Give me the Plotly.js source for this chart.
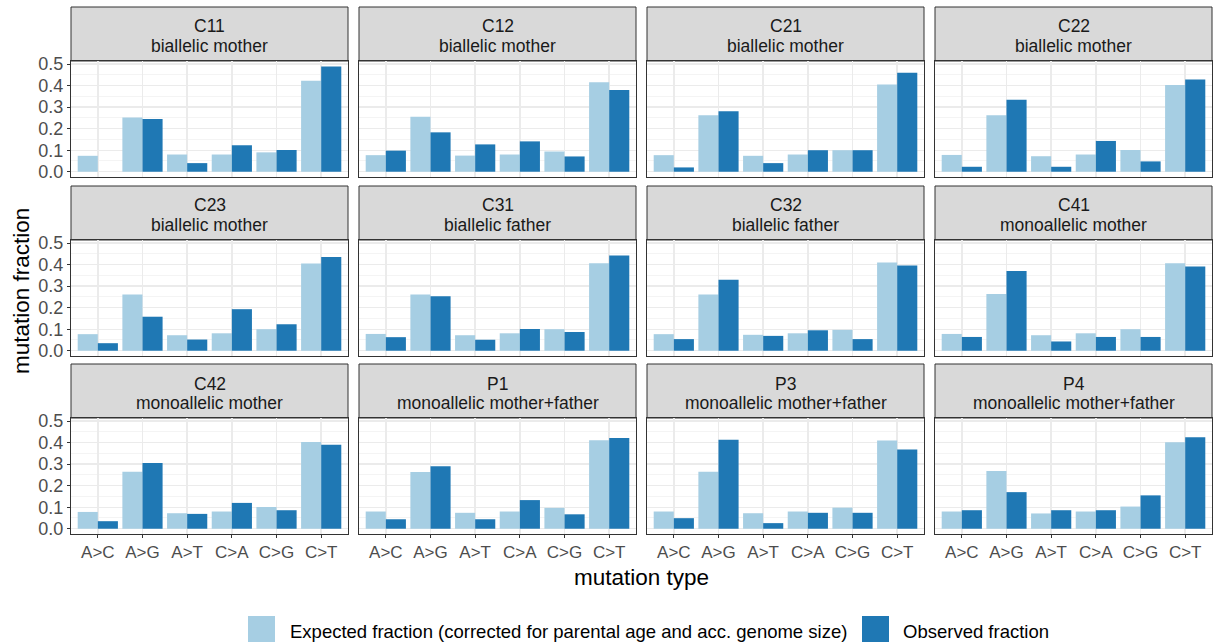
<!DOCTYPE html>
<html>
<head>
<meta charset="utf-8">
<script src="https://cdn.plot.ly/plotly-3.0.1.min.js"></script>
<style>
  html, body { margin: 0; padding: 0; background: #ffffff; }
  #chart { width: 1219px; height: 642px; }
</style>
</head>
<body>
<div id="chart"></div>
<script>
// Mutation spectrum per sample: expected vs observed fraction of each base substitution
const mutationTypes = ['A>C', 'A>G', 'A>T', 'C>A', 'C>G', 'C>T'];
const sampleIds = ['C11', 'C12', 'C21', 'C22', 'C23', 'C31', 'C32', 'C41', 'C42', 'P1', 'P3', 'P4'];
const inheritance = [
  'biallelic mother', 'biallelic mother', 'biallelic mother', 'biallelic mother',
  'biallelic mother', 'biallelic father', 'biallelic father', 'monoallelic mother',
  'monoallelic mother', 'monoallelic mother+father', 'monoallelic mother+father', 'monoallelic mother+father'
];
const seriesNames = ['Expected fraction (corrected for parental age and acc. genome size)', 'Observed fraction'];

// Expected fractions, one array per sample (order of mutationTypes)
const expC11 = [0.074, 0.252, 0.080, 0.080, 0.090, 0.423];
const expC12 = [0.077, 0.256, 0.075, 0.080, 0.094, 0.416];
const expC21 = [0.077, 0.262, 0.074, 0.080, 0.100, 0.405];
const expC22 = [0.078, 0.262, 0.072, 0.080, 0.101, 0.403];
const expC23 = [0.077, 0.261, 0.072, 0.081, 0.100, 0.405];
const expC31 = [0.078, 0.261, 0.072, 0.081, 0.100, 0.406];
const expC32 = [0.077, 0.261, 0.074, 0.081, 0.097, 0.410];
const expC41 = [0.078, 0.264, 0.072, 0.081, 0.100, 0.406];
const expC42 = [0.078, 0.265, 0.072, 0.080, 0.101, 0.403];
const expP1  = [0.080, 0.264, 0.074, 0.080, 0.097, 0.411];
const expP3  = [0.080, 0.265, 0.072, 0.080, 0.098, 0.410];
const expP4  = [0.080, 0.268, 0.071, 0.080, 0.103, 0.402];

// Observed fractions, one array per sample
const obsC11 = [0.000, 0.245, 0.040, 0.123, 0.101, 0.489];
const obsC12 = [0.098, 0.183, 0.127, 0.141, 0.071, 0.380];
const obsC21 = [0.020, 0.281, 0.040, 0.100, 0.100, 0.460];
const obsC22 = [0.023, 0.334, 0.023, 0.143, 0.048, 0.428];
const obsC23 = [0.035, 0.158, 0.052, 0.193, 0.123, 0.436];
const obsC31 = [0.063, 0.253, 0.051, 0.101, 0.087, 0.442];
const obsC32 = [0.054, 0.330, 0.069, 0.095, 0.054, 0.396];
const obsC41 = [0.064, 0.370, 0.043, 0.064, 0.064, 0.391];
const obsC42 = [0.035, 0.305, 0.069, 0.120, 0.086, 0.390];
const obsP1  = [0.044, 0.290, 0.044, 0.133, 0.067, 0.422];
const obsP3  = [0.049, 0.414, 0.026, 0.074, 0.074, 0.368];
const obsP4  = [0.086, 0.170, 0.086, 0.086, 0.155, 0.425];

const expectedBySample = [expC11, expC12, expC21, expC22, expC23, expC31, expC32, expC41, expC42, expP1, expP3, expP4];
const observedBySample = [obsC11, obsC12, obsC21, obsC22, obsC23, obsC31, obsC32, obsC41, obsC42, obsP1, obsP3, obsP4];

const colExpected = '#a6cee3';
const colObserved = '#1f78b4';

// Facet geometry in pixels
const W = 1219, H = 642;
const colLeft = [71, 359, 647, 935];
const panelW = 277;
const rowTop = [61, 240, 418];
const panelH = 116;
const stripH = 54;
const FONT = 'Liberation Sans, Arial, Helvetica, sans-serif';

const px = v => v / W;
const py = v => 1 - v / H;

const traces = [];
const layout = {
  width: W, height: H,
  margin: { l: 0, r: 0, t: 0, b: 0 },
  paper_bgcolor: '#ffffff',
  plot_bgcolor: '#ffffff',
  barmode: 'group',
  bargap: 0.1,
  bargroupgap: 0,
  showlegend: false,
  font: { family: FONT, color: '#4d4d4d' },
  shapes: [],
  annotations: []
};

sampleIds.forEach((id, i) => {
  const r = Math.floor(i / 4), c = i % 4;
  const n = i + 1;
  const xa = 'x' + (n === 1 ? '' : n), ya = 'y' + (n === 1 ? '' : n);
  const xKey = 'xaxis' + (n === 1 ? '' : n), yKey = 'yaxis' + (n === 1 ? '' : n);

  traces.push({
    type: 'bar', x: mutationTypes, y: expectedBySample[i], name: seriesNames[0],
    marker: { color: colExpected, line: { width: 0 } }, xaxis: xa, yaxis: ya, hoverinfo: 'x+y'
  });
  traces.push({
    type: 'bar', x: mutationTypes, y: observedBySample[i], name: seriesNames[1],
    marker: { color: colObserved, line: { width: 0 } }, xaxis: xa, yaxis: ya, hoverinfo: 'x+y'
  });

  const left = colLeft[c], top = rowTop[r];
  const bottomRow = r === 2, leftCol = c === 0;

  layout[xKey] = {
    domain: [px(left), px(left + panelW)],
    anchor: ya,
    type: 'category',
    categoryorder: 'array', categoryarray: mutationTypes,
    range: [-0.6, 5.6],
    showgrid: true, gridcolor: '#ebebeb', gridwidth: 1.4,
    showline: true, mirror: true, linecolor: '#333333', linewidth: 1,
    zeroline: false,
    ticks: bottomRow ? 'outside' : '', ticklen: 3, tickwidth: 1, tickcolor: '#333333',
    showticklabels: bottomRow,
    tickfont: { family: FONT, size: 17, color: '#4d4d4d' },
    fixedrange: true
  };
  layout[yKey] = {
    domain: [py(top + panelH), py(top)],
    anchor: xa,
    range: [-0.0245, 0.5145],
    tick0: 0, dtick: 0.1, tickformat: '.1f',
    showgrid: true, gridcolor: '#ebebeb', gridwidth: 1.4,
    minor: { tick0: 0.05, dtick: 0.1, showgrid: true, gridcolor: '#f1f1f1', gridwidth: 0.8 },
    showline: true, mirror: true, linecolor: '#333333', linewidth: 1,
    zeroline: false,
    ticks: leftCol ? 'outside' : '', ticklen: 3, tickwidth: 1, tickcolor: '#333333',
    showticklabels: leftCol,
    tickfont: { family: FONT, size: 18, color: '#4d4d4d' },
    fixedrange: true
  };

  // facet strip with two label lines
  const stripTop = top - stripH;
  layout.shapes.push({
    type: 'rect', xref: 'paper', yref: 'paper',
    x0: px(left), x1: px(left + panelW), y0: py(top), y1: py(stripTop),
    fillcolor: '#d9d9d9', line: { color: '#333333', width: 1 }, layer: 'below'
  });
  [[id, 19.5], [inheritance[i], 39]].forEach(([txt, dy]) => {
    layout.annotations.push({
      xref: 'paper', yref: 'paper',
      x: px(left + panelW / 2), y: py(stripTop + dy),
      xanchor: 'center', yanchor: 'middle',
      text: txt,
      showarrow: false,
      font: { family: FONT, size: 17.5, color: '#1a1a1a' }
    });
  });
});

// axis titles
layout.annotations.push({
  xref: 'paper', yref: 'paper', x: px(641), y: py(577),
  xanchor: 'center', yanchor: 'middle', text: 'mutation type', showarrow: false,
  font: { family: FONT, size: 22.5, color: '#000000' }
});
layout.annotations.push({
  xref: 'paper', yref: 'paper', x: px(21), y: py(291),
  xanchor: 'center', yanchor: 'middle', text: 'mutation fraction', showarrow: false, textangle: -90,
  font: { family: FONT, size: 22.5, color: '#000000' }
});

// legend keys and labels
const legendKeys = [
  { x0: 248, label: seriesNames[0], color: colExpected, tx: 288 },
  { x0: 862, label: seriesNames[1], color: colObserved, tx: 901 }
];
legendKeys.forEach(k => {
  layout.shapes.push({
    type: 'rect', xref: 'paper', yref: 'paper',
    x0: px(k.x0), x1: px(k.x0 + 27), y0: py(642), y1: py(616),
    fillcolor: k.color, line: { width: 0 }
  });
  layout.annotations.push({
    xref: 'paper', yref: 'paper', x: px(k.tx), y: py(631),
    xanchor: 'left', yanchor: 'middle', text: k.label, showarrow: false,
    font: { family: FONT, size: 18.5, color: '#000000' }
  });
});

Plotly.newPlot('chart', traces, layout, { displayModeBar: false, staticPlot: true });
</script>
</body>
</html>
